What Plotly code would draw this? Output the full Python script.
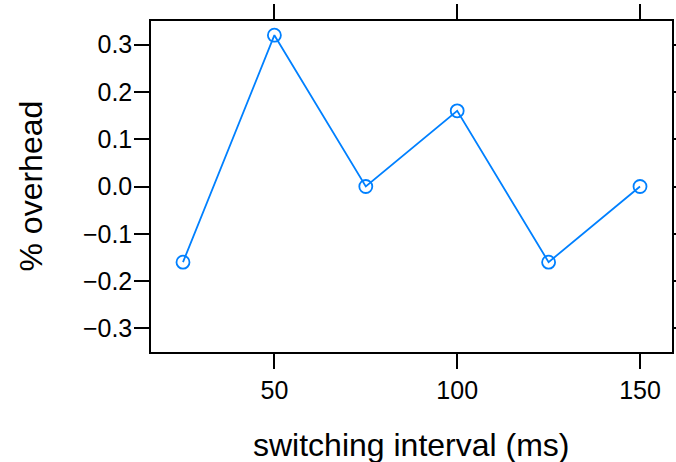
import plotly.graph_objects as go

intervals = [25, 50, 75, 100, 125, 150]
overhead = [-0.16, 0.32, 0.0, 0.16, -0.16, 0.0]
x_ticks = [50, 100, 150]
y_ticks = [-0.3, -0.2, -0.1, 0.0, 0.1, 0.2, 0.3]
y_tick_text = ["\u22120.3", "\u22120.2", "\u22120.1", "0.0", "0.1", "0.2", "0.3"]

FONT = "Liberation Sans, Arial, sans-serif"

fig = go.Figure()
fig.add_trace(go.Scatter(
    x=intervals, y=overhead, mode="lines+markers",
    line=dict(color="#0080FF", width=1.8),
    marker=dict(symbol="circle-open", size=13, color="#0080FF", line=dict(width=1.8)),
    showlegend=False,
))

axis_common = dict(
    showgrid=False, zeroline=False, showline=True, linecolor="black", linewidth=1.5,
    mirror="ticks", ticks="outside", ticklen=15, tickwidth=1.5, tickcolor="black",
    tickfont=dict(family=FONT, size=25, color="black"), automargin=False,
)

fig.update_layout(
    width=676, height=462,
    margin=dict(l=151, r=4, t=21, b=110),
    plot_bgcolor="white", paper_bgcolor="white",
    font=dict(family=FONT, color="black"),
    xaxis=dict(range=[16.25, 158.75], tickvals=x_ticks, **axis_common),
    yaxis=dict(range=[-0.35, 0.35], tickvals=y_ticks, ticktext=y_tick_text,
               ticklabelstandoff=-3, **axis_common),
    annotations=[
        dict(text="switching interval (ms)", xref="paper", yref="paper",
             x=0.5, y=-(445 - 352) / 331, xanchor="center", yanchor="middle",
             showarrow=False, font=dict(family=FONT, size=32, color="black")),
        dict(text="% overhead", xref="paper", yref="paper",
             x=-(151 - 30) / 521, y=0.5, xanchor="center", yanchor="middle",
             textangle=-90, showarrow=False,
             font=dict(family=FONT, size=32, color="black")),
    ],
)

fig.write_html("out.html")
